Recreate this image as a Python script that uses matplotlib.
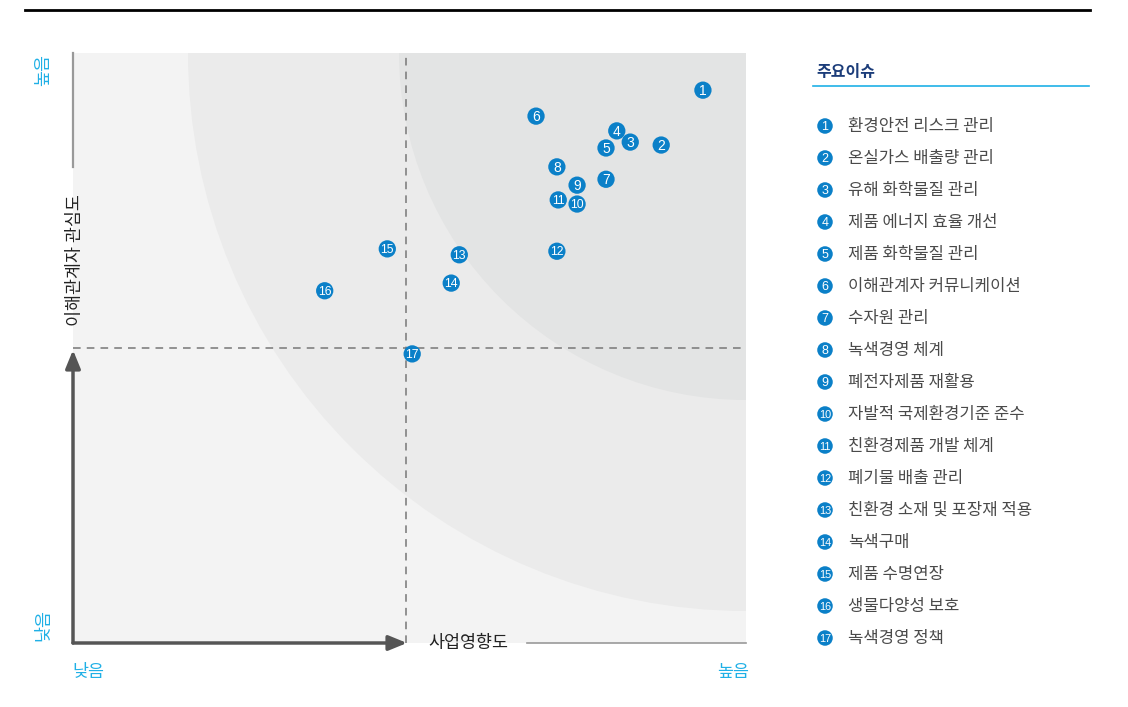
#!/usr/bin/env python3

import matplotlib
matplotlib.use('Agg')
import matplotlib.pyplot as plt
from matplotlib.patches import Ellipse

plt.rcParams['font.family'] = ['Noto Sans CJK KR', 'DejaVu Sans']

# 중대성 평가 결과 (x: 사업영향도, y: 이해관계자 관심도, 0~100)
issues = [
    '환경안전 리스크 관리',
    '온실가스 배출량 관리',
    '유해 화학물질 관리',
    '제품 에너지 효율 개선',
    '제품 화학물질 관리',
    '이해관계자 커뮤니케이션',
    '수자원 관리',
    '녹색경영 체계',
    '폐전자제품 재활용',
    '자발적 국제환경기준 준수',
    '친환경제품 개발 체계',
    '폐기물 배출 관리',
    '친환경 소재 및 포장재 적용',
    '녹색구매',
    '제품 수명연장',
    '생물다양성 보호',
    '녹색경영 정책',
]
business_impact = [93.6, 87.4, 82.8, 80.8, 79.2, 68.8, 79.2, 71.9, 74.9,
                   74.9, 72.1, 71.9, 57.4, 56.2, 46.7, 37.4, 50.4]
stakeholder_interest = [93.7, 84.4, 84.9, 86.8, 83.9, 89.3, 78.6, 80.7, 77.6,
                        74.4, 75.1, 66.4, 65.8, 61.0, 66.8, 59.7, 49.0]

x_mid, y_mid = 49.5, 50.0

BLUE = '#0b80c8'
CYAN = '#1fb0e6'
AXIS = '#555555'
NUM_FONT = ['Liberation Sans Narrow', 'Liberation Sans', 'DejaVu Sans']


def badge_number(axis, x, y, n, big, small):
    # 원형 마커 안의 흰색 번호 (숫자 기준선 보정용 약간 아래로)
    axis.annotate(str(n), (x, y), xytext=(0, -0.6), textcoords='offset points',
                  color='white', fontsize=big if n < 10 else small,
                  ha='center', va='center', family=NUM_FONT, zorder=4)


W, H = 1128, 707
fig = plt.figure(figsize=(W / 100, H / 100), dpi=100)

# 매트릭스 영역 (픽셀 기준 위치)
left, right, top, bottom = 73, 746, 53, 643
ax = fig.add_axes([left / W, (H - bottom) / H, (right - left) / W, (bottom - top) / H])
ax.set_xlim(0, 100)
ax.set_ylim(0, 100)
ax.set_facecolor('#f3f3f3')
for s in ax.spines.values():
    s.set_visible(False)
ax.set_xticks([])
ax.set_yticks([])

# 우상단 기준 동심원 배경
px_x = (right - left) / 100
px_y = (bottom - top) / 100
for r, c in [(558, '#ebebeb'), (347, '#e3e4e4')]:
    ax.add_patch(Ellipse((100, 100), 2 * r / px_x, 2 * r / px_y,
                         facecolor=c, edgecolor='none', zorder=0))

ax.axvline(x_mid, color='#777777', lw=1.1, ls=(0, (5, 4)), zorder=1)
ax.axhline(y_mid, color='#777777', lw=1.1, ls=(0, (5, 4)), zorder=1)

ax.scatter(business_impact, stakeholder_interest, s=155, color=BLUE,
           edgecolors='none', zorder=3)
for i, (x, y) in enumerate(zip(business_impact, stakeholder_interest), 1):
    badge_number(ax, x, y, i, 10, 8.8)

# 축, 라벨, 범례는 픽셀 좌표 오버레이에 그림
ov = fig.add_axes([0, 0, 1, 1], facecolor='none')
ov.set_xlim(0, W)
ov.set_ylim(H, 0)
ov.axis('off')
ov.set_zorder(5)

ov.plot([25, 1090], [10, 10], color='black', lw=2)

arrow = dict(arrowstyle='-|>,head_length=1.1,head_width=0.45', color=AXIS,
             lw=2.5, shrinkA=0, shrinkB=0)
ov.annotate('', xy=(left, 350), xytext=(left, bottom), arrowprops=arrow)
ov.annotate('', xy=(407, bottom), xytext=(left, bottom), arrowprops=arrow)
ov.plot([left, left], [top, 167], color='#999999', lw=1.6)
ov.plot([527, right], [bottom, bottom], color='#999999', lw=1.2)

ov.text(left + 2, 260, '이해관계자 관심도', rotation=90, ha='center', va='center',
        fontsize=12.5, color='#222222')
ov.text(468, bottom, '사업영향도', ha='center', va='center',
        fontsize=12.5, color='#222222')

ov.text(43, 70, '높음', rotation=90, ha='center', va='center', fontsize=12.5, color=CYAN)
ov.text(43, 625, '낮음', rotation=90, ha='center', va='center', fontsize=12.5, color=CYAN)
ov.text(88, 672, '낮음', ha='center', va='center', fontsize=12.5, color=CYAN)
ov.text(733, 672, '높음', ha='center', va='center', fontsize=12.5, color=CYAN)

# 주요이슈 목록
ov.text(816, 72, '주요이슈', ha='left', va='center', fontsize=11.5,
        fontweight='bold', color='#1c3d7a')
ov.plot([813, 1089], [86, 86], color=CYAN, lw=1.2)
ys = [126 + 32 * k for k in range(len(issues))]
ov.scatter([825] * len(issues), ys, s=125, color=BLUE, edgecolors='none')
for i, (name, y) in enumerate(zip(issues, ys), 1):
    badge_number(ov, 825, y, i, 9, 7.8)
    ov.text(848, y, name, ha='left', va='center', fontsize=12, color='#4a4a4a')

fig.savefig('out.png', dpi=100)
